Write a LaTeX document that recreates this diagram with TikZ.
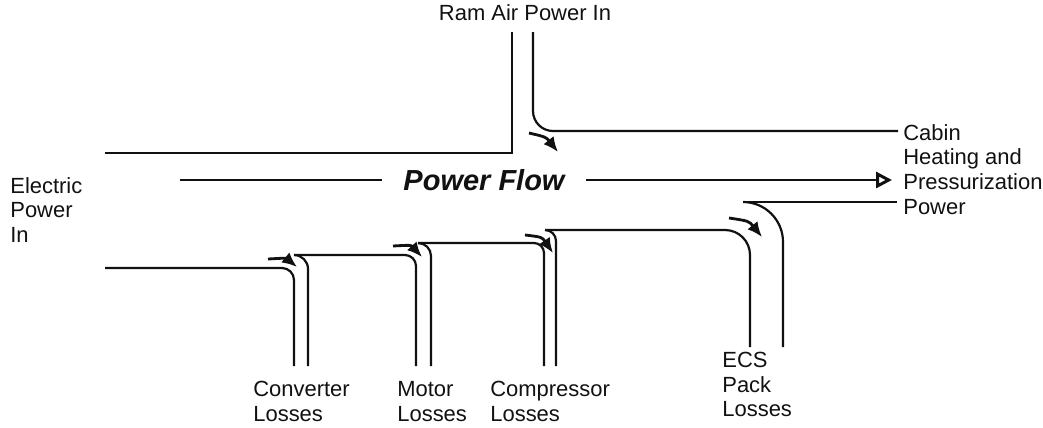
\documentclass[tikz,border=0pt]{standalone}
\usepackage{fontspec}
\setmainfont{Liberation Sans}
\usepackage{xcolor}
\usetikzlibrary{arrows.meta,positioning}
\definecolor{ink}{HTML}{111111}
\tikzset{
  wall/.style={draw=ink,line width=1.25pt},
  lbl/.style={font=\fontsize{12.5}{14}\selectfont,align=left,
              inner sep=0pt,anchor=north west,text=ink},
  pflow/.style={font=\fontsize{16.5}{18}\selectfont\bfseries\itshape,
                inner xsep=0.42cm,inner ysep=0pt,text=ink},
  flowarr/.style={-{Latex[length=3mm,width=2.6mm]},line width=1.6pt,color=ink},
  mainarr/.style={-{Triangle[open,length=3.2mm,width=3.2mm,line width=1.7pt]},
                  line width=1.25pt,color=ink}
}

\begin{document}
\begin{tikzpicture}[x=0.02cm,y=-0.02cm]
  \useasboundingbox (0,0) rectangle (1043,427);
  % labels
  \node[lbl] (elec) at (10,177) {Electric\\Power\\In};
  \node[lbl,anchor=north] (ram) at (525,4) {Ram Air Power In};
  \node[lbl] (cabin) at (903,124) {Cabin\\Heating and\\Pressurization\\Power};
  \node[lbl] (conv) at (253,381) {Converter\\Losses};
  \node[lbl] (motor) at (397,381) {Motor\\Losses};
  \node[lbl] (comp) at (490,381) {Compressor\\Losses};
  \node[lbl] (ecs) at (722,352) {ECS\\Pack\\Losses};
  \node[pflow] (pf) at (484,180) {Power Flow};
  % power flow line
  \coordinate (pfin) at (180,180);
  \coordinate (pfout) at (892,180);
  \draw[wall] (pfin) -- (pf.west);
  \draw[mainarr] (pf.east) -- (pfout);
  % duct walls
  \draw[wall] (105,153) -- (512,153) -- (512,32);
  \draw[wall,rounded corners=0.4cm] (533,32) -- (533,131) -- (898,131);
  \draw[wall,rounded corners=0.24cm] (105,268) -- (294,268) -- (294,366);
  \draw[wall,rounded corners=0.28cm] (308,366) -- (308,255) -- (294,255);
  \draw[wall,rounded corners=0.22cm] (294,255) -- (416,255) -- (416,366);
  \draw[wall,rounded corners=0.26cm] (431,366) -- (431,243) -- (418,243);
  \draw[wall,rounded corners=0.2cm] (418,243) -- (544,243) -- (544,366);
  \draw[wall,rounded corners=0.22cm] (556,366) -- (556,230) -- (545,230);
  \draw[wall,rounded corners=0.5cm] (545,230) -- (750,230) -- (750,347);
  \draw[wall,rounded corners=0.8cm] (783,347) -- (783,202) -- (743,202);
  \draw[wall] (743,202) -- (897,202);
  % curved flow arrows
  \foreach \ax/\ay/\cx/\cy/\bx/\by in {529/133/546/137/558/152,
      268/259/286/258/297/267, 393/246/411/245/422/257,
      525/235/542/237/553/253, 729/218/749/221/762/237} {
    \draw[flowarr] (\ax,\ay) .. controls (\cx,\cy) .. (\bx,\by);
  }
\end{tikzpicture}
\end{document}
